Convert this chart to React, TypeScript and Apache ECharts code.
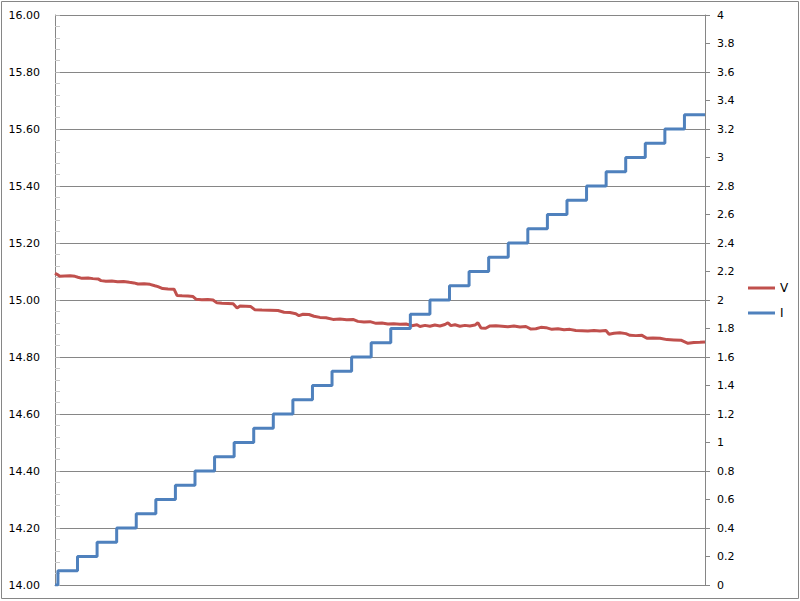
import React, { useEffect, useRef } from "react";
import * as echarts from "echarts";

// Current (I): times at which each step begins, and the step values
const iTimes = [0, 1.5, 11.5, 21.5, 31.5, 41.5, 51.5, 61.5, 71.5, 81.5, 91.5, 101.5, 111.5, 121.5, 131.5, 141.5, 151.5, 161.5, 171.5, 181.5, 191.5, 201.5, 211.5, 221.5, 231.5, 241.5, 251.5, 261.5, 271.5, 281.5, 291.5, 301.5, 311.5, 321.5, 332];
const iValues = [0, 0.1, 0.2, 0.3, 0.4, 0.5, 0.6, 0.7, 0.8, 0.9, 1.0, 1.1, 1.2, 1.3, 1.4, 1.5, 1.6, 1.7, 1.8, 1.9, 2.0, 2.1, 2.2, 2.3, 2.4, 2.5, 2.6, 2.7, 2.8, 2.9, 3.0, 3.1, 3.2, 3.3, 3.3];

// Voltage (V)
const vTimes = [0, 1, 2.5, 5, 7.7, 10.2, 11.7, 13.8, 16.9, 19.4, 22, 23.5, 26, 29, 32, 35, 38, 40.3, 42.4, 45.5, 48.5, 51, 52.6, 55, 57.7, 60.8, 62.3, 64.9, 67.9, 70.5, 72, 75, 78, 80.7, 82.7, 85.3, 88.3, 91, 93, 94.5, 97.5, 100, 102, 105.7, 109.8, 113.9, 117, 120, 123, 124.6, 126.7, 129.7, 132.3, 135.3, 138.4, 142, 145.5, 149, 152.2, 154.7, 157.8, 160.9, 164, 167, 170, 173, 176.2, 179.3, 182.3, 184.9, 186.4, 189, 191.5, 194, 196.6, 199.2, 200.7, 202.2, 204.3, 206.8, 209.4, 211.9, 214.5, 216, 217.6, 220, 222.2, 225.2, 228.3, 231.3, 234.4, 237.5, 240.5, 243.1, 245.6, 248.2, 250.8, 253.8, 256.9, 260, 263, 266, 269.2, 272.2, 275.3, 278.3, 281.4, 283, 285.5, 288.5, 291.6, 293.7, 296.7, 299.8, 302.3, 305.4, 309, 312.6, 316.1, 319.7, 323.3, 326.3, 329.4, 332];
const vValues = [15.094, 15.09, 15.083, 15.084, 15.085, 15.083, 15.08, 15.076, 15.077, 15.075, 15.074, 15.068, 15.066, 15.067, 15.064, 15.065, 15.062, 15.06, 15.056, 15.057, 15.055, 15.05, 15.047, 15.04, 15.039, 15.038, 15.016, 15.015, 15.014, 15.012, 15.003, 15.001, 15.002, 15.0, 14.99, 14.989, 14.988, 14.987, 14.972, 14.979, 14.978, 14.977, 14.966, 14.965, 14.964, 14.963, 14.957, 14.956, 14.952, 14.945, 14.95, 14.949, 14.943, 14.939, 14.938, 14.932, 14.933, 14.931, 14.932, 14.925, 14.923, 14.924, 14.918, 14.919, 14.916, 14.917, 14.915, 14.916, 14.91, 14.913, 14.907, 14.911, 14.908, 14.912, 14.909, 14.914, 14.92, 14.91, 14.913, 14.908, 14.911, 14.909, 14.912, 14.92, 14.902, 14.901, 14.909, 14.91, 14.908, 14.906, 14.909, 14.905, 14.907, 14.898, 14.899, 14.904, 14.903, 14.897, 14.899, 14.896, 14.897, 14.893, 14.892, 14.891, 14.893, 14.891, 14.893, 14.88, 14.883, 14.885, 14.882, 14.876, 14.875, 14.876, 14.866, 14.867, 14.866, 14.861, 14.86, 14.859, 14.848, 14.851, 14.852, 14.853];

const seriesNames = ["V", "I"];
const seriesColors = ["#C0504D", "#4F81BD"];

export default function App() {
  const ref = useRef<HTMLDivElement>(null);
  useEffect(() => {
    if (!ref.current) return;
    const chart = echarts.init(ref.current, undefined, { renderer: "svg" });
    const font = "DejaVu Sans";
    const axisGray = "#868686";
    chart.setOption({
      animation: false,
      backgroundColor: "#ffffff",
      textStyle: { fontFamily: font },
      grid: { left: 55, right: 95, top: 15, bottom: 16, containLabel: false },
      graphic: [
        {
          type: "rect",
          shape: { x: 1.5, y: 1.5, width: 797, height: 597 },
          style: { fill: "none", stroke: axisGray, lineWidth: 1 },
          silent: true,
        },
      ],
      legend: {
        orient: "vertical",
        left: 743,
        top: 277,
        itemWidth: 27,
        itemHeight: 3,
        itemGap: 13,
        icon: "rect",
        data: seriesNames,
        textStyle: { fontFamily: font, fontSize: 12, color: "#000" },
      },
      xAxis: {
        type: "value",
        min: 0,
        max: 332,
        axisLine: { show: true, lineStyle: { color: axisGray, width: 1 } },
        axisTick: { show: false },
        axisLabel: { show: false },
        splitLine: { show: false },
      },
      yAxis: [
        {
          type: "value",
          position: "left",
          min: 14,
          max: 16,
          interval: 0.2,
          axisLine: { show: true, onZero: false, lineStyle: { color: axisGray, width: 1 } },
          axisTick: { show: true, inside: true, length: 5, lineStyle: { color: "#b0b0b0" } },
          minorTick: { show: true, splitNumber: 5, length: 5, lineStyle: { color: "#c8c8c8" } },
          axisLabel: {
            fontFamily: font,
            fontSize: 11,
            color: "#000",
            margin: 15,
            formatter: (v: number) => v.toFixed(2),
          },
          splitLine: { show: true, lineStyle: { color: axisGray, width: 1 } },
        },
        {
          type: "value",
          position: "right",
          min: 0,
          max: 4,
          interval: 0.2,
          axisLine: { show: true, onZero: false, lineStyle: { color: axisGray, width: 1 } },
          axisTick: { show: true, inside: false, length: 5, lineStyle: { color: axisGray } },
          axisLabel: {
            fontFamily: font,
            fontSize: 11,
            color: "#000",
            margin: 12,
            formatter: (v: number) => String(Math.round(v * 10) / 10),
          },
          splitLine: { show: false },
        },
      ],
      series: [
        {
          name: seriesNames[0],
          type: "line",
          yAxisIndex: 0,
          showSymbol: false,
          color: seriesColors[0],
          lineStyle: { width: 3, color: seriesColors[0] },
          data: vTimes.map((t, i) => [t, vValues[i]]),
        },
        {
          name: seriesNames[1],
          type: "line",
          yAxisIndex: 1,
          step: "end",
          showSymbol: false,
          color: seriesColors[1],
          lineStyle: { width: 3, color: seriesColors[1] },
          data: iTimes.map((t, i) => [t, iValues[i]]),
        },
      ],
    });
    return () => chart.dispose();
  }, []);
  return (
    <div
      ref={ref}
      style={{ position: "fixed", left: 0, top: 0, width: 800, height: 601 }}
    />
  );
}
